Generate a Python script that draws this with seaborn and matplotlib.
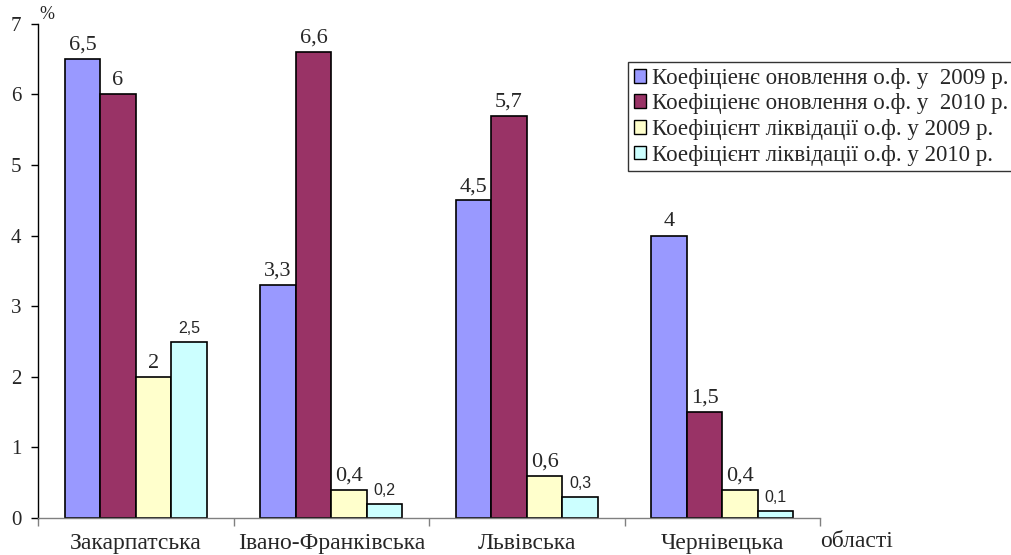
import matplotlib
matplotlib.use("Agg")
import matplotlib.pyplot as plt
import seaborn as sns
import pandas as pd
from matplotlib.patches import Patch

regions = ["Закарпатська", "Івано-Франківська", "Львівська", "Чернівецька"]
series = [
    "Коефіціенє оновлення о.ф. у  2009 р.",
    "Коефіціенє оновлення о.ф. у  2010 р.",
    "Коефіцієнт ліквідації о.ф. у 2009 р.",
    "Коефіцієнт ліквідації о.ф. у 2010 р.",
]
renewal_2009 = [6.5, 3.3, 4.5, 4.0]
renewal_2010 = [6.0, 6.6, 5.7, 1.5]
liquidation_2009 = [2.0, 0.4, 0.6, 0.4]
liquidation_2010 = [2.5, 0.2, 0.3, 0.1]
colors = ["#9999FF", "#993366", "#FFFFCC", "#CCFFFF"]
y_ticks = [0, 1, 2, 3, 4, 5, 6, 7]

df = pd.DataFrame({
    "region": regions * 4,
    "series": [s for s in series for _ in regions],
    "value": renewal_2009 + renewal_2010 + liquidation_2009 + liquidation_2010,
})

sns.set_theme(style="white")
plt.rcParams["font.family"] = ["Liberation Serif", "DejaVu Serif"]

fig = plt.figure(figsize=(10.11, 5.55), dpi=100)
ax = fig.add_axes([0.0376, 0.0667, 0.7735, 0.8903])

sns.barplot(data=df, x="region", y="value", hue="series", order=regions,
            hue_order=series, palette=colors, edgecolor="black", linewidth=1.2,
            width=0.727, saturation=1, legend=False, ax=ax)

def fmt(v):
    return f"{v:g}".replace(".", ",")

for i, cont in enumerate(ax.containers):
    labels = [fmt(v) for v in cont.datavalues]
    if i == 3:
        ax.bar_label(cont, labels=labels, padding=4, fontsize=11.5,
                     family=["Liberation Sans", "DejaVu Sans"])
    else:
        ax.bar_label(cont, labels=labels, padding=3, fontsize=16)

ax.set_ylim(0, 7)
ax.set_xlim(-0.5, 3.5)
ax.set_yticks(y_ticks)
ax.set_yticklabels([str(t) for t in y_ticks], fontsize=15)
ax.set_xticks(range(len(regions)))
ax.set_xticklabels(regions, fontsize=17)
ax.set_xticks([-0.5, 0.5, 1.5, 2.5, 3.5], minor=True)
ax.tick_params(axis="x", which="major", length=0, pad=11)
ax.tick_params(axis="x", which="minor", length=6, width=1, color="#808080",
               direction="out", bottom=True)
ax.tick_params(axis="y", length=5, width=1, color="black", direction="out",
               left=True, pad=7)
ax.set_xlabel("")
ax.set_ylabel("")

for side in ["top", "right"]:
    ax.spines[side].set_visible(False)
ax.spines["left"].set_color("black")
ax.spines["left"].set_linewidth(1)
ax.spines["bottom"].set_color("#808080")
ax.spines["bottom"].set_linewidth(1)

fig.text(0.0465, 0.973, "%", fontsize=13, ha="center", va="center")
fig.text(0.811, 0.006, "області", fontsize=17, ha="left", va="bottom")

handles = [Patch(facecolor=c, edgecolor="black", linewidth=1) for c in colors]
leg = fig.legend(handles, series, loc="upper left",
                 bbox_to_anchor=(0.621, 0.888), fontsize=16.5,
                 frameon=True, fancybox=False, edgecolor="black",
                 handlelength=0.55, handleheight=0.55, handletextpad=0.27,
                 labelspacing=0.2, borderpad=0.25, borderaxespad=0)
leg.get_frame().set_linewidth(1)

fig.savefig("out.png", dpi=100)
